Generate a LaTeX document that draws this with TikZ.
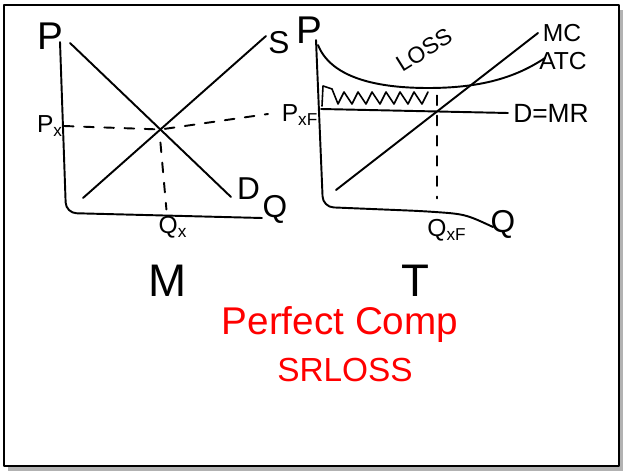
\documentclass[tikz,border=0pt]{standalone}
\usepackage{fontspec}
\setmainfont{Liberation Sans}
\usetikzlibrary{positioning, calc}

\begin{document}
\begin{tikzpicture}[x=0.02cm, y=-0.02cm, line width=1.1pt, line cap=round, line join=round,
  lbl/.style={inner sep=0pt, font=\fontsize{18}{18}\selectfont},
  small/.style={inner sep=0pt, font=\fontsize{14}{14}\selectfont},
  big/.style={inner sep=0pt, font=\fontsize{26}{26}\selectfont},
  guide/.style={dash pattern=on 5.5pt off 6pt},
  note/.style={inner sep=0pt, text=red}]
  \useasboundingbox (0,0) rectangle (623,473);
  % frame with shadow
  \fill[gray!60] (8,10) rectangle (623,471);
  \draw[fill=white, line width=1.5pt] (4,5) rectangle (619,466);

  % market
  \coordinate (mTop) at (60,42);
  \coordinate (mCorner) at (66,213);
  \coordinate (mEnd) at (262,218);
  \draw[rounded corners=6pt] (mTop) -- (mCorner) -- (mEnd);
  \node (mP) [lbl, font=\fontsize{22}{22}\selectfont] at (50,36) {P};
  \node (mQ) [lbl] at (275,209) {Q};
  \coordinate (dTop) at (70,43);
  \coordinate (dBot) at (231,197);
  \coordinate (sBot) at (83,198);
  \coordinate (sTop) at (266,36);
  \draw (dTop) -- (dBot);
  \draw (sBot) -- (sTop);
  \node (mD) [lbl, right=3pt of dBot, yshift=5pt] {D};
  \node (mS) [lbl] at (279,43) {S};
  \coordinate (eq) at (intersection of dTop--dBot and sBot--sTop);
  \node (mPx) [small] at (50,126) {P\textsubscript{x}};
  \coordinate (pxEnd) at (268,114);
  \draw[guide] (mPx.east) -- (eq) -- (pxEnd);
  \coordinate (qxTop) at ($(eq)+(0,13)$);
  \coordinate (qxBot) at ($(eq)+(6,80)$);
  \draw[guide] (qxTop) -- (qxBot);
  \node (mQx) [small] at (173,227) {Q\textsubscript{x}};
  \node (mLbl) [big] at (168,281) {M};

  % firm
  \coordinate (fTop) at (316,40);
  \coordinate (fCorner) at (323,207);
  \coordinate (fMid) at (420,211);
  \coordinate (fEnd) at (493,227);
  \draw[rounded corners=6pt] (fTop) -- (fCorner) -- (fMid) .. controls (465,214) .. (fEnd);
  \node (fP) [lbl, font=\fontsize{22}{22}\selectfont] at (309,30) {P};
  \node (fQ) [lbl] at (503,224) {Q};
  % cost curves
  \coordinate (atcStart) at (318,45);
  \coordinate (atcMin) at (428,88);
  \coordinate (atcEnd) at (545,58);
  \draw (atcStart) .. controls (330,75) and (370,88) .. (atcMin)
        .. controls (480,88) and (515,78) .. (atcEnd);
  \coordinate (mcBot) at (336,190);
  \coordinate (mcTop) at (538,33);
  \draw (mcBot) -- (mcTop);
  \coordinate (mrStart) at (321,109);
  \coordinate (mrEnd) at (508,113);
  \draw (mrStart) -- (mrEnd);
  \node (fMC) [small] at (562,33) {MC};
  \node (fATC) [small] at (563,61) {ATC};
  \node (fMR) [small, font=\fontsize{15}{15}\selectfont] at (551,113) {D=MR};
  \node (fPx) [small] at (300,115) {P\textsubscript{xF}};
  \coordinate (fq) at (intersection of mcBot--mcTop and mrStart--mrEnd);
  \draw[guide] ($(fq)+(0,-16)$) -- ($(fq)+(0,87)$);
  \node (fQx) [small] at (447,230) {Q\textsubscript{xF}};
  % loss area
  \draw[line width=0.9pt] (322,106) -- (323,86) -- (332,89)
    \foreach \x in {338,352,...,422} { -- (\x,104) -- (\x+6,92) };
  \node (loss) [small, font=\fontsize{13}{13}\selectfont, rotate=32] at (424,50) {LOSS};
  \node (fLbl) [big] at (415,281) {T};

  % heading
  \node (title) [note, font=\fontsize{22}{22}\selectfont] at (340,325) {Perfect Comp};
  \node (sub) [note, font=\fontsize{19}{19}\selectfont] at (345,370) {SRLOSS};
\end{tikzpicture}
\end{document}
